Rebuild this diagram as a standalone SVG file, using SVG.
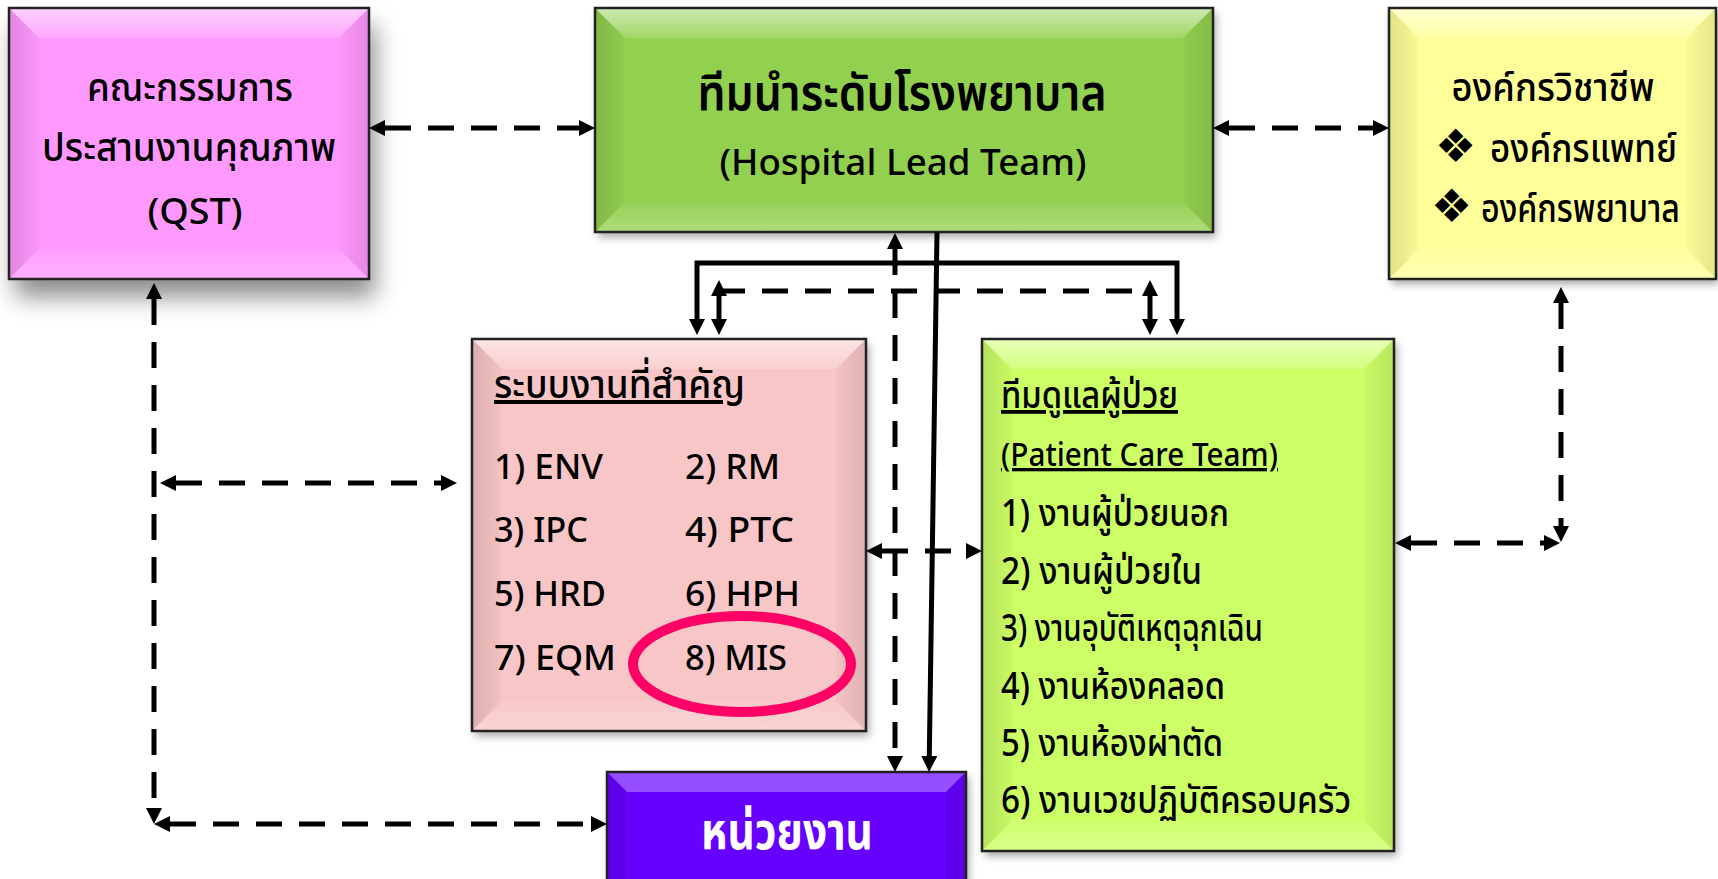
<svg xmlns="http://www.w3.org/2000/svg" width="1718" height="879" viewBox="0 0 1718 879">
<defs>
  <marker id="ah" markerUnits="userSpaceOnUse" markerWidth="16" markerHeight="16" refX="0" refY="8" orient="auto-start-reverse" viewBox="0 0 16 16">
    <path d="M0,0 L16,8 L0,16 z" fill="#000"/>
  </marker>
  <filter id="sh" x="-10%" y="-10%" width="130%" height="140%">
    <feDropShadow dx="3" dy="5" stdDeviation="4" flood-color="#000" flood-opacity="0.35"/>
  </filter>
  <filter id="shBig" x="-15%" y="-15%" width="140%" height="150%">
    <feDropShadow dx="6" dy="18" stdDeviation="12" flood-color="#000" flood-opacity="0.45"/>
  </filter>
  <linearGradient id="gTop" x1="0" y1="0" x2="0" y2="1">
    <stop offset="0" stop-color="#fff" stop-opacity="0.55"/>
    <stop offset="1" stop-color="#fff" stop-opacity="0.15"/>
  </linearGradient>
  <linearGradient id="gLeft" x1="0" y1="0" x2="1" y2="0">
    <stop offset="0" stop-color="#000" stop-opacity="0.12"/>
    <stop offset="1" stop-color="#000" stop-opacity="0.02"/>
  </linearGradient>
  <linearGradient id="gRight" x1="0" y1="0" x2="1" y2="0">
    <stop offset="0" stop-color="#000" stop-opacity="0.02"/>
    <stop offset="1" stop-color="#000" stop-opacity="0.10"/>
  </linearGradient>
  <linearGradient id="gBot" x1="0" y1="0" x2="0" y2="1">
    <stop offset="0" stop-color="#fff" stop-opacity="0.05"/>
    <stop offset="1" stop-color="#fff" stop-opacity="0.25"/>
  </linearGradient>
</defs>
<style>
  .bt { fill: url(#gTop); }
  .bl { fill: url(#gLeft); }
  .br { fill: url(#gRight); }
  .bb { fill: url(#gBot); }
  .frame { fill: none; stroke: #222; stroke-width: 2.5; }
  text { font-family: "Noto Sans Thai", "Noto Sans", "Open Sans", sans-serif; fill: #000; font-weight: 500; }
  .c { text-anchor: middle; }
  .th40 { font-size: 40px; }
  .la36 { font-size: 36px; }
  .title { font-size: 50px; font-weight: 600; }
  .la35 { font-size: 35px; }
  .th38 { font-size: 38px; }
  .la33 { font-size: 33px; }
  .bul { font-size: 46px; font-family: "DejaVu Sans", sans-serif; }
  .unit { font-size: 52px; font-weight: 700; fill: #fff; }
  .ul { text-decoration: underline; }
  .dash { fill: none; stroke: #000; stroke-width: 5; stroke-dasharray: 26 17; }
  .solid { fill: none; stroke: #000; stroke-width: 5; }
  .arr2 { marker-start: url(#ah); marker-end: url(#ah); }
  .arr1 { marker-end: url(#ah); }
</style>

<g id="node-qst">
  <rect x="9" y="8" width="360" height="271" fill="#FF99FF" filter="url(#shBig)"/>
  <path class="bt" d="M9,8 H369 L339,38 H39 Z"/>
  <path class="bl" d="M9,8 L39,38 V249 L9,279 Z"/>
  <path class="br" d="M369,8 V279 L339,249 V38 Z"/>
  <path class="bb" d="M9,279 L39,249 H339 L369,279 Z"/>
  <rect class="frame" x="9" y="8" width="360" height="271"/>
  <text class="c th40" x="190" y="101" textLength="206" lengthAdjust="spacingAndGlyphs">คณะกรรมการ</text>
  <text class="c th40" x="189" y="161" textLength="294" lengthAdjust="spacingAndGlyphs">ประสานงานคุณภาพ</text>
  <text class="c la36" x="195" y="224" textLength="95" lengthAdjust="spacingAndGlyphs">(QST)</text>
</g>

<g id="node-hlt">
  <rect x="595" y="8" width="618" height="224" fill="#92D050" filter="url(#sh)"/>
  <path class="bt" d="M595,8 H1213 L1183,38 H625 Z"/>
  <path class="bl" d="M595,8 L625,38 V202 L595,232 Z"/>
  <path class="br" d="M1213,8 V232 L1183,202 V38 Z"/>
  <path class="bb" d="M595,232 L625,202 H1183 L1213,232 Z"/>
  <rect class="frame" x="595" y="8" width="618" height="224"/>
  <text class="c title" x="902" y="110" textLength="409" lengthAdjust="spacingAndGlyphs">ทีมนำระดับโรงพยาบาล</text>
  <text class="c la36" x="903" y="175" textLength="367" lengthAdjust="spacingAndGlyphs">(Hospital Lead Team)</text>
</g>

<g id="node-prof">
  <rect x="1389" y="8" width="327" height="271" fill="#FFFF99" filter="url(#sh)"/>
  <path class="bt" d="M1389,8 H1716 L1686,38 H1419 Z"/>
  <path class="bl" d="M1389,8 L1419,38 V249 L1389,279 Z"/>
  <path class="br" d="M1716,8 V279 L1686,249 V38 Z"/>
  <path class="bb" d="M1389,279 L1419,249 H1686 L1716,279 Z"/>
  <rect class="frame" x="1389" y="8" width="327" height="271"/>
  <text class="c th40" x="1553" y="101" textLength="203" lengthAdjust="spacingAndGlyphs">องค์กรวิชาชีพ</text>
  <text class="bul" x="1435" y="162">❖</text>
  <text class="th40" x="1490" y="162" textLength="187" lengthAdjust="spacingAndGlyphs">องค์กรแพทย์</text>
  <text class="bul" x="1431" y="222">❖</text>
  <text class="th40" x="1481" y="222" textLength="199" lengthAdjust="spacingAndGlyphs">องค์กรพยาบาล</text>
</g>

<g id="node-systems">
  <rect x="472" y="339" width="394" height="392" fill="#F8C6C6" filter="url(#sh)"/>
  <path class="bt" d="M472,339 H866 L836,369 H502 Z"/>
  <path class="bl" d="M472,339 L502,369 V701 L472,731 Z"/>
  <path class="br" d="M866,339 V731 L836,701 V369 Z"/>
  <path class="bb" d="M472,731 L502,701 H836 L866,731 Z"/>
  <rect class="frame" x="472" y="339" width="394" height="392"/>
  <text class="th40 ul" x="494" y="398" textLength="251" lengthAdjust="spacingAndGlyphs">ระบบงานที่สำคัญ</text>
  <text class="la35" x="494" y="479" textLength="109" lengthAdjust="spacingAndGlyphs">1) ENV</text>
  <text class="la35" x="685" y="479" textLength="95" lengthAdjust="spacingAndGlyphs">2) RM</text>
  <text class="la35" x="494" y="542" textLength="94" lengthAdjust="spacingAndGlyphs">3) IPC</text>
  <text class="la35" x="685" y="542" textLength="109" lengthAdjust="spacingAndGlyphs">4) PTC</text>
  <text class="la35" x="494" y="606" textLength="112" lengthAdjust="spacingAndGlyphs">5) HRD</text>
  <text class="la35" x="685" y="606" textLength="115" lengthAdjust="spacingAndGlyphs">6) HPH</text>
  <text class="la35" x="494" y="670" textLength="122" lengthAdjust="spacingAndGlyphs">7) EQM</text>
  <text class="la35" x="685" y="670" textLength="102" lengthAdjust="spacingAndGlyphs">8) MIS</text>
  <ellipse cx="742" cy="664" rx="109" ry="48" fill="none" stroke="#FF0066" stroke-width="10"/>
</g>

<g id="node-pct">
  <rect x="982" y="339" width="412" height="512" fill="#CCFF66" filter="url(#sh)"/>
  <path class="bt" d="M982,339 H1394 L1364,369 H1012 Z"/>
  <path class="bl" d="M982,339 L1012,369 V821 L982,851 Z"/>
  <path class="br" d="M1394,339 V851 L1364,821 V369 Z"/>
  <path class="bb" d="M982,851 L1012,821 H1364 L1394,851 Z"/>
  <rect class="frame" x="982" y="339" width="412" height="512"/>
  <text class="th38 ul" x="1001" y="408" textLength="177" lengthAdjust="spacingAndGlyphs">ทีมดูแลผู้ป่วย</text>
  <text class="la33 ul" x="1001" y="466" textLength="277" lengthAdjust="spacingAndGlyphs">(Patient Care Team)</text>
  <text class="th38" x="1001" y="526" textLength="228" lengthAdjust="spacingAndGlyphs">1) งานผู้ป่วยนอก</text>
  <text class="th38" x="1001" y="584" textLength="201" lengthAdjust="spacingAndGlyphs">2) งานผู้ป่วยใน</text>
  <text class="th38" x="1001" y="641" textLength="262" lengthAdjust="spacingAndGlyphs">3) งานอุบัติเหตุฉุกเฉิน</text>
  <text class="th38" x="1001" y="699" textLength="224" lengthAdjust="spacingAndGlyphs">4) งานห้องคลอด</text>
  <text class="th38" x="1001" y="756" textLength="222" lengthAdjust="spacingAndGlyphs">5) งานห้องผ่าตัด</text>
  <text class="th38" x="1001" y="813" textLength="350" lengthAdjust="spacingAndGlyphs">6) งานเวชปฏิบัติครอบครัว</text>
</g>

<g id="node-unit">
  <rect x="607" y="772" width="359" height="120" fill="#6600FF" filter="url(#sh)"/>
  <path d="M607,772 H966 L946,792 H627 Z" fill="#fff" fill-opacity="0.3"/>
  <path d="M607,772 L627,792 V880 H607 Z" fill="#000" fill-opacity="0.08"/>
  <path d="M966,772 V880 H946 V792 Z" fill="#000" fill-opacity="0.08"/>
  <rect class="frame" x="607" y="772" width="359" height="120"/>
  <text class="c unit" x="787" y="849" textLength="172" lengthAdjust="spacingAndGlyphs">หน่วยงาน</text>
</g>

<g id="connectors">
  <path class="dash arr2" d="M385,128 H579"/>
  <path class="dash arr2" d="M1229,128 H1373"/>
  <path class="solid arr1" d="M937,232 L929.3,756"/>
  <path class="solid arr2" d="M697,319 V263 H1177 V319"/>
  <path class="dash" d="M719,291 H1150"/>
  <path class="solid arr2" d="M719,296 V319"/>
  <path class="solid arr2" d="M1150,296 V319"/>
  <path class="dash arr2" d="M895,249 V756"/>
  <path class="dash arr2" d="M882,551 H966"/>
  <path class="dash arr2" d="M154,299 V808"/>
  <path class="dash arr2" d="M170,824 H591"/>
  <path class="dash arr2" d="M176,483 H441"/>
  <path class="dash arr2" d="M1561,303 V526"/>
  <path class="dash arr2" d="M1411,543 H1544"/>
</g>
</svg>
